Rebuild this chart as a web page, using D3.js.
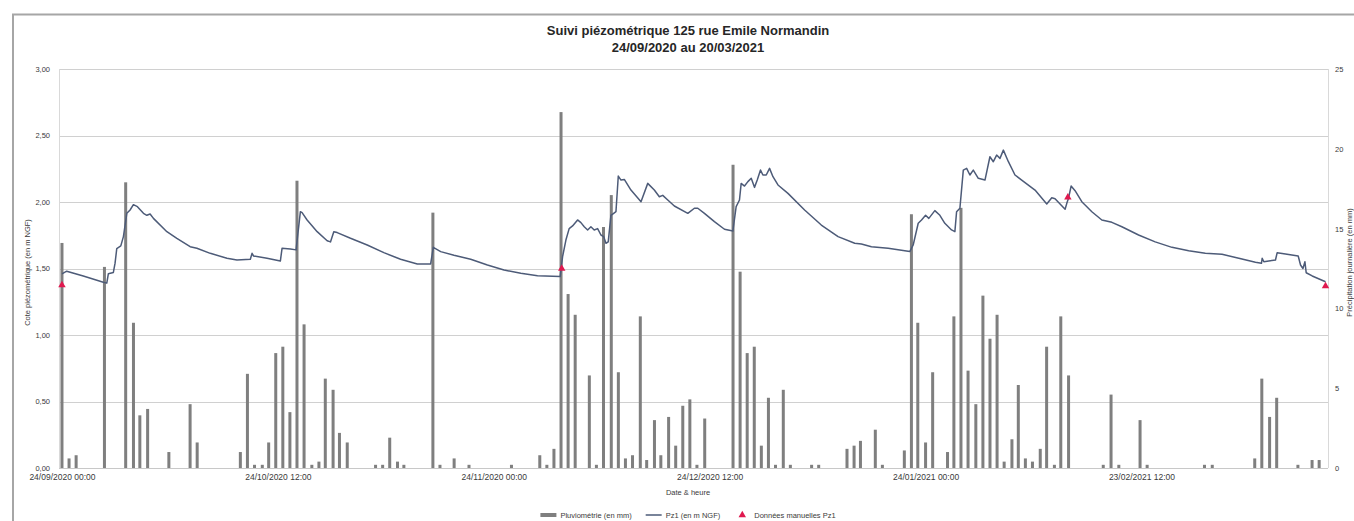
<!DOCTYPE html>
<html lang="fr">
<head>
<meta charset="utf-8">
<title>Suivi piézométrique 125 rue Emile Normandin</title>
<script src="https://cdn.jsdelivr.net/npm/d3@7"></script>
<style>
  html, body { margin: 0; padding: 0; background: #ffffff; }
  svg { display: block; font-family: "Liberation Sans", Arial, sans-serif; }
</style>
</head>
<body>
<svg id="chart" width="1354" height="521"></svg>
<script>
// Période de suivi : décalages en jours depuis le 24/09/2020 00:00
const startDate = new Date(Date.UTC(2020, 8, 24, 0, 0));

// Pluviométrie journalière (mm)
const rainDay = [
  0, 1, 2, 6, 9, 10.1, 11, 12.1, 15.1, 18.1, 19.1, 25.2, 26.2, 27.2, 28.3, 29.2, 30.2, 31.2, 32.2, 33.2,
  34.2, 35.3, 36.3, 37.2, 38.3, 39.2, 40.3, 44.3, 45.3, 46.3, 47.4, 48.3, 52.4, 53.4, 55.4, 57.5, 63.5, 67.5,
  68.5, 69.5, 70.5, 71.5, 72.5, 74.5, 75.5, 76.5, 77.6, 78.6, 79.6, 80.6, 81.7, 82.6, 83.7, 84.6, 85.7, 86.7,
  87.7, 88.7, 89.7, 90.8, 94.8, 95.8, 96.8, 97.8, 98.8, 99.8, 100.8, 101.9, 102.9, 105.9, 106.9, 110.9, 111.9,
  112.8, 114.9, 115.9, 119.0, 120.0, 120.9, 122.0, 123.0, 125.1, 126.0, 127.0, 128.0, 129.1, 130.1, 131.1,
  132.1, 133.1, 134.2, 135.1, 136.1, 137.1, 138.2, 139.1, 140.2, 141.1, 142.2, 147.1, 148.2, 149.3, 152.3,
  153.3, 161.4, 162.5, 168.5, 169.5, 170.6, 171.6, 174.6, 176.6, 177.6
];
const rainMm = [
  14.1, 0.6, 0.8, 12.6, 17.9, 9.1, 3.3, 3.7, 1.0, 4.0, 1.6, 1.0, 5.9, 0.2, 0.2, 1.6, 7.2, 7.6, 3.5, 18.0,
  9.0, 0.2, 0.4, 5.6, 4.9, 2.2, 1.6, 0.2, 0.2, 1.9, 0.4, 0.2, 16.0, 0.2, 0.6, 0.2, 0.2, 0.8,
  0.2, 1.2, 22.3, 10.9, 9.6, 5.8, 0.2, 15.1, 17.1, 6.0, 0.6, 0.8, 9.5, 0.5, 3.0, 0.8, 3.2, 1.4,
  3.9, 4.3, 0.2, 3.1, 19.0, 12.3, 7.2, 7.6, 1.4, 4.4, 0.2, 4.9, 0.2, 0.2, 0.2, 1.2, 1.4,
  1.7, 2.4, 0.2, 1.1, 15.9, 9.1, 1.6, 6.0, 1.0, 9.5, 16.3, 6.1, 4.0, 10.8, 8.1,
  9.6, 0.4, 1.8, 5.2, 0.6, 0.4, 1.2, 7.6, 0.2, 9.5, 5.8, 0.2, 4.6, 0.2, 3.0,
  0.2, 0.2, 0.2, 0.6, 5.6, 3.2, 4.4, 0.2, 0.5, 0.5
];

// Niveau Pz1 enregistré (m NGF)
const pz1Day = [
  0, 0.67, 3.01, 5.84, 6.33, 6.55, 7.26, 7.5, 7.74, 8.31, 8.68, 9.16, 9.62, 10.09, 10.66, 11.51, 11.99, 12.45,
  12.92, 14.82, 16.23, 18.11, 19.06, 20.95, 23.31, 24.72, 26.61, 26.85, 27.07, 28.97, 30.85, 31.09, 32.27,
  33.07, 33.68, 33.92, 34.63, 36.05, 37.46, 37.93, 38.4, 38.88, 40.76, 43.12, 45.47, 47.83, 50.2, 52.08,
  52.46, 53.5, 55.38, 57.74, 60.1, 62.45, 64.82, 67.18, 70.38, 70.72, 71.19, 71.65, 72.13, 72.84, 73.31,
  73.78, 74.26, 74.72, 75.19, 75.67, 76.14, 76.52, 76.85, 77.17, 77.55, 77.94, 78.26, 78.59, 78.97, 79.44,
  80.38, 81.8, 82.75, 83.68, 84.39, 84.87, 85.58, 86.51, 88.41, 89.34, 89.82, 90.76, 92.17, 93.59, 94.78,
  95.24, 95.71, 95.95, 96.42, 96.9, 97.37, 97.83, 98.22, 98.68, 99.02, 99.49, 99.96, 100.44, 101.15,
  102.56, 104.91, 107.27, 109.64, 111.99, 112.93, 114.35, 116.71, 119.77, 120.25, 120.96, 121.43, 122.0,
  122.46, 123.31, 124.02, 124.72, 125.67, 126.14, 126.38, 126.85, 127.33, 127.8, 128.26, 128.74, 129.45,
  130.39, 131.09, 131.57, 132.04, 132.51, 132.99, 133.7, 134.63, 135.58, 137.46, 139.12, 139.83, 140.29,
  141.71, 141.95, 142.19, 142.56, 143.12, 144.07, 145.49, 146.9, 148.32, 149.73, 152.09, 154.44, 156.81,
  159.17, 161.52, 163.88, 166.25, 168.6, 169.45, 169.55, 169.79, 171.43, 171.67, 172.84, 174.64, 174.97,
  175.31, 175.59, 175.77, 176.62, 178.5
];
const pz1Level = [
  1.46, 1.48, 1.444, 1.396, 1.39, 1.46, 1.47, 1.54, 1.65, 1.67, 1.74, 1.915, 1.94, 1.98, 1.965, 1.915, 1.9, 1.91,
  1.877, 1.777, 1.727, 1.664, 1.652, 1.614, 1.577, 1.564, 1.57, 1.614, 1.594, 1.577, 1.556, 1.652, 1.647,
  1.64, 1.927, 1.92, 1.865, 1.777, 1.709, 1.7, 1.777, 1.77, 1.727, 1.677, 1.619, 1.57, 1.534, 1.534,
  1.659, 1.627, 1.6, 1.57, 1.526, 1.489, 1.464, 1.446, 1.439, 1.589, 1.714, 1.8, 1.82, 1.865, 1.845,
  1.814, 1.79, 1.814, 1.79, 1.8, 1.752, 1.74, 1.69, 1.7, 1.9, 1.915, 1.927, 2.195, 2.165, 2.17,
  2.09, 2.002, 2.14, 2.09, 2.04, 2.05, 2.015, 1.97, 1.915, 1.953, 1.953, 1.915, 1.852, 1.795, 1.782,
  1.965, 2.015, 2.14, 2.12, 2.153, 2.178, 2.11, 2.165, 2.24, 2.203, 2.203, 2.253, 2.19, 2.128,
  2.065, 1.94, 1.827, 1.74, 1.69, 1.684, 1.664, 1.652, 1.627, 1.677, 1.84, 1.865, 1.9,
  1.877, 1.935, 1.9, 1.84, 1.79, 1.777, 1.927, 1.953, 2.24, 2.253, 2.203, 2.24, 2.178,
  2.165, 2.34, 2.303, 2.353, 2.328, 2.39, 2.303, 2.203, 2.165, 2.09, 1.985, 2.032, 2.025,
  1.945, 1.99, 2.028, 2.12, 2.085, 2.002, 1.927, 1.865, 1.847, 1.814, 1.752, 1.7, 1.659,
  1.634, 1.614, 1.607, 1.577, 1.547, 1.539, 1.577, 1.551, 1.564, 1.619, 1.609, 1.594, 1.526,
  1.5, 1.551, 1.468, 1.444, 1.4
];

// Relevés manuels Pz1 (m NGF)
const manualDay = [0, 70.6, 142.1, 178.5];
const manualLevel = [1.376, 1.5, 2.035, 1.368];

// Graduations
const levelTicks = [0, 0.5, 1, 1.5, 2, 2.5, 3];
const rainTicks = [0, 5, 10, 15, 20, 25];
const dateTickDays = [0, 30.5, 61, 91.5, 122, 152.5];

const titleLines = ["Suivi piézométrique 125 rue Emile Normandin", "24/09/2020 au 20/03/2021"];
const legendLabels = ["Pluviométrie (en mm)", "Pz1 (en m NGF)", "Données manuelles Pz1"];

// ---------------------------------------------------------------
const dayToDate = d => new Date(startDate.getTime() + d * 86400000);
const frLocale = d3.formatLocale({ decimal: ",", thousands: " ", grouping: [3], currency: ["", " €"] });
const fmtLevel = frLocale.format(".2f");
const fmtDate = d3.utcFormat("%d/%m/%Y %H:%M");

const textColor = "#3a3a3a";
const barColor = "#7f7f7f";
const lineColor = "#4d5b78";
const markColor = "#e0194f";

const svg = d3.select("#chart");
const plot = { left: 59, right: 1328, top: 69, bottom: 468 };

const x = d3.scaleUtc()
  .domain([dayToDate(-0.42), dayToDate(178.85)])
  .range([plot.left, plot.right]);
const yLevel = d3.scaleLinear().domain([0, 3]).range([plot.bottom, plot.top]);
const yRain = d3.scaleLinear().domain([0, 25]).range([plot.bottom, plot.top]);

// Cadre du graphique
svg.append("path")
  .attr("d", `M13,521 L13,14.5 L1354,14.5`)
  .attr("fill", "none")
  .attr("stroke", "#a6a6a6")
  .attr("stroke-width", 2);

// Titre
svg.append("g").selectAll("text").data(titleLines).join("text")
  .attr("x", 688)
  .attr("y", (d, i) => 35 + i * 17)
  .attr("text-anchor", "middle")
  .attr("font-size", 13)
  .attr("font-weight", "bold")
  .attr("fill", "#262626")
  .text(d => d);

// Grille horizontale
svg.append("g").selectAll("line").data(levelTicks).join("line")
  .attr("x1", plot.left).attr("x2", plot.right)
  .attr("y1", d => Math.round(yLevel(d)) + 0.5)
  .attr("y2", d => Math.round(yLevel(d)) + 0.5)
  .attr("stroke", "#d0d0d0")
  .attr("stroke-width", 1);

// Lignes des axes verticaux
svg.append("g").selectAll("line").data([plot.left, plot.right]).join("line")
  .attr("x1", d => d + 0.5).attr("x2", d => d + 0.5)
  .attr("y1", plot.top).attr("y2", plot.bottom)
  .attr("stroke", "#d9d9d9");

function styleTicks(g, size) {
  g.select(".domain").remove();
  g.selectAll("text")
    .attr("font-size", size)
    .attr("fill", textColor)
    .attr("font-family", "Liberation Sans, Arial, sans-serif");
}

// Axe gauche : cote piézométrique
svg.append("g")
  .attr("transform", `translate(${plot.left},0)`)
  .call(d3.axisLeft(yLevel).tickValues(levelTicks).tickFormat(fmtLevel).tickSize(0).tickPadding(9))
  .call(g => styleTicks(g, 7.5));

// Axe droit : pluviométrie
svg.append("g")
  .attr("transform", `translate(${plot.right},0)`)
  .call(d3.axisRight(yRain).tickValues(rainTicks).tickFormat(d3.format("d")).tickSize(0).tickPadding(7))
  .call(g => styleTicks(g, 7.5));

// Axe des dates
svg.append("line")
  .attr("x1", plot.left).attr("x2", plot.right)
  .attr("y1", plot.bottom + 0.5).attr("y2", plot.bottom + 0.5)
  .attr("stroke", "#c8c8c8");
svg.append("g")
  .attr("transform", `translate(0,${plot.bottom})`)
  .call(d3.axisBottom(x).tickValues(dateTickDays.map(dayToDate)).tickFormat(fmtDate).tickSize(0).tickPadding(6))
  .call(g => styleTicks(g, 8.5));

// Titres des axes
svg.append("text")
  .attr("transform", `translate(30,${(plot.top + plot.bottom) / 2 + 4}) rotate(-90)`)
  .attr("text-anchor", "middle")
  .attr("font-size", 7.5).attr("fill", textColor)
  .text("Cote piézométrique (en m NGF)");
svg.append("text")
  .attr("transform", `translate(1351.5,${(plot.top + plot.bottom) / 2 - 6}) rotate(-90)`)
  .attr("text-anchor", "middle")
  .attr("font-size", 7.5).attr("fill", textColor)
  .text("Précipitation journalière (en mm)");
svg.append("text")
  .attr("x", 688).attr("y", 495)
  .attr("text-anchor", "middle")
  .attr("font-size", 7.5).attr("fill", textColor)
  .text("Date & heure");

// Barres de pluie
const barW = 3;
svg.append("g").selectAll("rect").data(rainDay.map((d, i) => ({ d, v: rainMm[i] }))).join("rect")
  .attr("x", p => x(dayToDate(p.d)) - barW / 2)
  .attr("width", barW)
  .attr("y", p => yRain(p.v))
  .attr("height", p => yRain(0) - yRain(p.v))
  .attr("fill", barColor);

// Courbe Pz1
const line = d3.line()
  .x(p => x(dayToDate(p.d)))
  .y(p => yLevel(p.v));
svg.append("path")
  .datum(pz1Day.map((d, i) => ({ d, v: pz1Level[i] })))
  .attr("d", line)
  .attr("fill", "none")
  .attr("stroke", lineColor)
  .attr("stroke-width", 1.5)
  .attr("stroke-linejoin", "round");

// Mesures manuelles
const tri = d3.symbol().type(d3.symbolTriangle).size(24);
svg.append("g").selectAll("path").data(manualDay.map((d, i) => ({ d, v: manualLevel[i] }))).join("path")
  .attr("transform", p => `translate(${x(dayToDate(p.d))},${yLevel(p.v)})`)
  .attr("d", tri)
  .attr("fill", markColor);

// Légende centrée sous le graphique
const legend = svg.append("g").attr("font-size", 7.5).attr("fill", textColor);
const legendY = 515;
const keyW = 16, keyGap = 4, itemGap = 14;
const items = legendLabels.map((label, i) => {
  const g = legend.append("g");
  if (i === 0) {
    g.append("rect").attr("x", 0).attr("y", legendY - 2).attr("width", keyW).attr("height", 4).attr("fill", barColor);
  } else if (i === 1) {
    g.append("line").attr("x1", 0).attr("x2", keyW).attr("y1", legendY).attr("y2", legendY)
      .attr("stroke", lineColor).attr("stroke-width", 1.5);
  } else {
    g.append("path").attr("transform", `translate(${keyW / 2},${legendY})`).attr("d", tri).attr("fill", markColor);
  }
  const t = g.append("text").attr("x", keyW + keyGap).attr("y", legendY + 2.7).text(label);
  return { g, w: keyW + keyGap + t.node().getComputedTextLength() };
});
const totalW = d3.sum(items, d => d.w) + itemGap * (items.length - 1);
let cx = 688 - totalW / 2;
items.forEach(it => { it.g.attr("transform", `translate(${cx},0)`); cx += it.w + itemGap; });
</script>
</body>
</html>
